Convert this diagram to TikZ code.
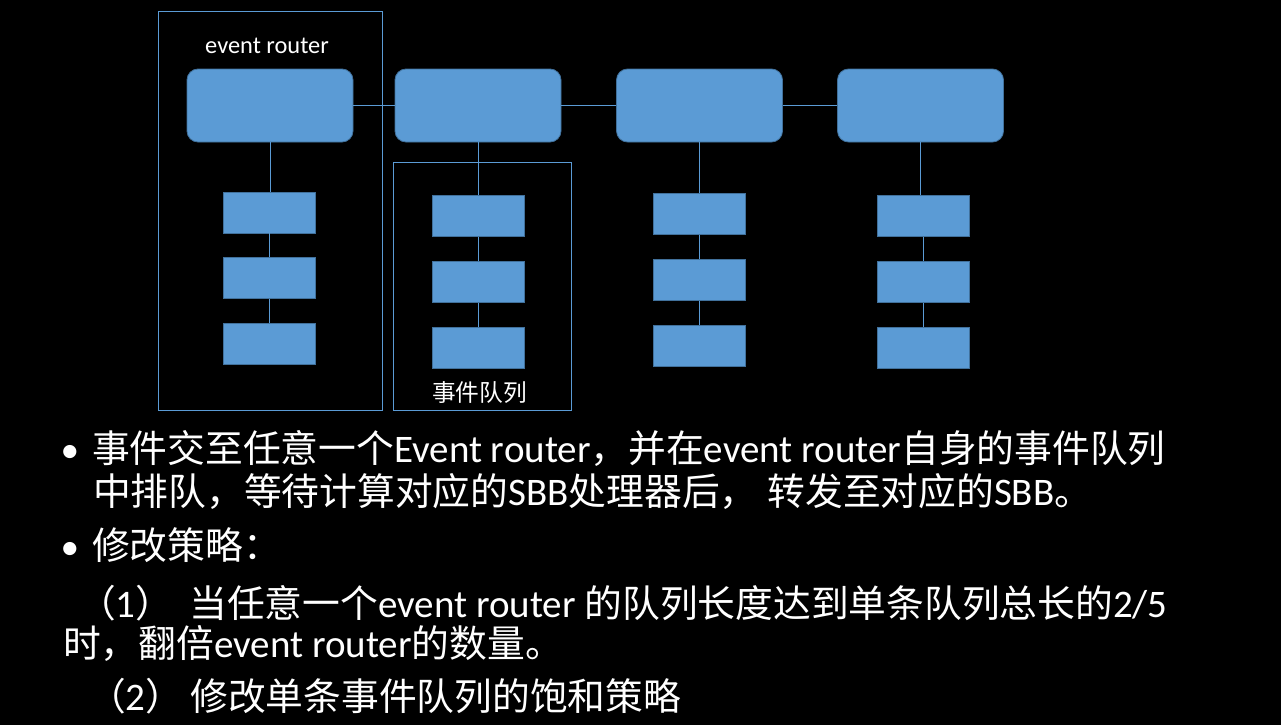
\documentclass[tikz,border=0pt]{standalone}
\usepackage{fontspec}
\setmainfont{Carlito}
\newfontfamily\cjk[Scale=0.968,Kerning=Off]{Noto Sans CJK SC}
\newcommand\zh[1]{{\cjk #1}}
\definecolor{boxfill}{HTML}{5B9BD5}
\definecolor{boxedge}{HTML}{41719C}
\definecolor{linecol}{HTML}{5B9BD5}
\tikzset{
  router/.style={draw=boxedge, fill=boxfill, line width=0.8pt, rounded corners=11pt, minimum width=166pt, minimum height=73pt, inner sep=0pt},
  qbox/.style={draw=boxedge, fill=boxfill, line width=0.8pt, minimum width=92pt, minimum height=41pt, inner sep=0pt},
  frame/.style={draw=linecol, line width=0.9pt, inner sep=0pt},
  link/.style={draw=linecol, line width=1pt},
  para/.style={anchor=base west, inner sep=0pt, text=white, font=\fontsize{39}{42}\selectfont},
  bul/.style={anchor=base, inner sep=0pt, text=white, font=\fontsize{37.3}{40}\selectfont}
}
\begin{document}
\begin{tikzpicture}[x=1pt,y=-1pt]
\fill[black] (0,0) rectangle (1281,725);
\useasboundingbox (0,0) rectangle (1281,725);

% frames
\node[frame, minimum width=224pt, minimum height=399pt] (f1) at (270,210.5) {};
\node[frame, minimum width=178pt, minimum height=248pt] (f2) at (482,286) {};

% routers
\node[router] (r1) at (270,105.5) {};
\node[router] (r2) at (478,105.5) {};
\node[router] (r3) at (699.5,105.5) {};
\node[router] (r4) at (920.5,105.5) {};

% queues
\node[qbox] (a1) at (269,212.5) {};
\node[qbox] (a2) at (269,278) {};
\node[qbox] (a3) at (269,344) {};
\node[qbox] (b1) at (478.5,216) {};
\node[qbox] (b2) at (478.5,282) {};
\node[qbox] (b3) at (478.5,348) {};
\node[qbox] (c1) at (699.5,214) {};
\node[qbox] (c2) at (699.5,280) {};
\node[qbox] (c3) at (699.5,346) {};
\node[qbox] (d1) at (923.5,216) {};
\node[qbox] (d2) at (923.5,282) {};
\node[qbox] (d3) at (923.5,348) {};

% connectors
\draw[link] (r1.east) -- (r2.west);
\draw[link] (r2.east) -- (r3.west);
\draw[link] (r3.east) -- (r4.west);
\foreach \r/\q in {r1/a1,r2/b1,r3/c1,r4/d1}{
  \draw[link] (\r.south) -- (\r.south |- \q.north);
}
\foreach \p/\q in {a1/a2,a2/a3,b1/b2,b2/b3,c1/c2,c2/c3,d1/d2,d2/d3}{
  \draw[link] (\p.south) -- (\q.north);
}

% labels
\node[anchor=base, inner sep=0pt, text=white, font=\fontsize{24.4}{26}\selectfont] (lab1) at (267,53) {event router};
\node[anchor=base, inner sep=0pt, text=white, font=\fontsize{24.5}{26}\selectfont\cjk] (lab2) at (479.5,401) {事件队列};

% text
\node[bul] (bu1) at (70,462) {•};
\node[para] (t1) at (92,462) {\zh{事件交至任意一个}Event router\zh{，并在}event router\zh{自身的事件队列}};
\node[para] (t2) at (93,505) {\zh{中排队，等待计算对应的}SBB\zh{处理器后，}\hspace{10pt}\zh{转发至对应的}SBB\zh{。}};
\node[bul] (bu2) at (70,559) {•};
\node[para] (t3) at (92,559) {\zh{修改策略：}};
\node[para] (t4) at (78,617) {\zh{（}1\zh{）}\hspace{16pt}\zh{当任意一个}event router \zh{的队列长度达到单条队列总长的}2/5};
\node[para] (t5) at (63,657) {\zh{时，翻倍}event router\zh{的数量。}};
\node[para] (t6) at (88,710) {\zh{（}2\zh{）}\hspace{7pt}\zh{修改单条事件队列的饱和策略}};
\end{tikzpicture}
\end{document}
